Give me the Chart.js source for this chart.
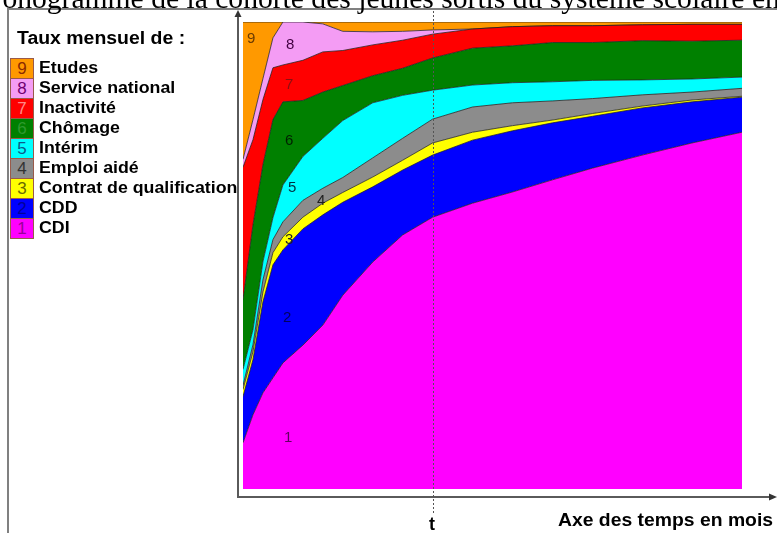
<!DOCTYPE html>
<html><head><meta charset="utf-8">
<script src="https://cdn.jsdelivr.net/npm/chart.js@4/dist/chart.umd.min.js"></script>
<style>
html,body{margin:0;padding:0;background:#fff;}
#wrap{position:relative;width:777px;height:533px;overflow:hidden;background:#fff;}
canvas{position:absolute;left:0;top:0;}
.t{position:absolute;white-space:nowrap;font-family:"Liberation Sans",Arial,sans-serif;transform-origin:0 0;}
#title{position:absolute;left:-42px;top:-16px;font-family:"Liberation Serif","Times New Roman",serif;font-size:29.6px;line-height:29px;white-space:nowrap;color:#000;}
.lg{position:absolute;left:10px;height:20px;line-height:20px;white-space:nowrap;font-family:"Liberation Sans",Arial,sans-serif;font-weight:bold;font-size:16px;color:#000;}
.lg .bx{position:absolute;left:0;top:0;width:22px;height:19px;border:1px solid #9a5a4a;box-sizing:content-box;text-align:center;font-weight:normal;font-size:17px;line-height:19px;}
.lg .tx{position:absolute;left:29px;top:0;transform:scaleX(1.11);transform-origin:0 0;}
.al{position:absolute;font-family:"Liberation Sans",Arial,sans-serif;font-size:15px;line-height:15px;}
</style></head><body>
<div id="wrap">
<canvas id="c" width="777" height="533"></canvas>
<div id="title">Chronogramme de la cohorte des jeunes sortis du système scolaire en 1998</div>
<div class="t" style="left:17px;top:28px;font-weight:bold;font-size:18px;line-height:20px;transform:scaleX(1.08);">Taux mensuel de :</div>
<div id="legend"></div>
<div class="t" style="left:429px;top:514px;font-weight:bold;font-size:18px;line-height:20px;">t</div>
<div class="t" style="left:558px;top:510px;font-weight:bold;font-size:18px;line-height:20px;transform:scaleX(1.075);">Axe des temps en mois</div>
<div class="al" style="left:247px;top:30px;color:#6a3a00;">9</div>
<div class="al" style="left:286px;top:36px;color:#400040;">8</div>
<div class="al" style="left:285px;top:76px;color:#8a1010;">7</div>
<div class="al" style="left:285px;top:132px;color:#002000;">6</div>
<div class="al" style="left:288px;top:179px;color:#003040;">5</div>
<div class="al" style="left:317px;top:192px;color:#202020;">4</div>
<div class="al" style="left:285px;top:231px;color:#202020;">3</div>
<div class="al" style="left:283px;top:309px;color:#000060;">2</div>
<div class="al" style="left:284px;top:429px;color:#600060;">1</div>
</div>
<script>
// time in months since leaving school
const months  = [0, 1, 2, 3, 4, 6, 8, 10, 13, 16, 19, 23, 27, 31, 35, 40, 45, 50];
const T_MONTH = 19;
// monthly rates (%) per state
const cdi      = [9.9,15.9,20.6,23.8,27.0,30.8,35.1,41.5,48.6,54.4,58.2,61.2,63.6,66.2,68.7,71.5,74.1,76.4];
const cdd      = [9.9,11.8,19.5,24.2,24.2,24.9,23.6,19.9,16.1,13.9,13.3,13.5,13.1,12.2,11.1,10.1,8.8,7.5];
const qualif   = [1.5,1.7,2.1,2.6,2.8,2.5,2.5,2.1,2.1,2.1,2.6,1.7,1.1,0.6,0.6,0.4,0.4,0.2];
const aide     = [0.9,1.5,2.6,2.8,3.2,3.6,3.2,3.2,4.1,4.7,5.1,5.4,4.9,4.1,3.2,2.4,1.7,1.7];
const interim  = [3.4,3.2,3.9,4.7,7.9,9.4,10.7,12.2,11.8,9.2,6.2,4.7,4.3,4.1,3.9,3.2,2.8,2.4];
const chomage  = [15.0,22.5,20.8,21.0,17.8,12.0,9.9,7.5,5.8,5.8,6.9,7.9,7.9,8.4,8.1,8.4,8.1,7.9];
const inactif  = [28.3,18.2,13.9,11.1,7.9,8.6,8.6,7.5,6.6,6.0,5.1,4.1,4.1,3.6,3.6,3.4,3.6,3.4];
const service  = [1.7,4.3,4.5,6.4,9.2,8.2,6.0,4.1,2.8,1.9,0.9,0,0,0,0,0,0,0];
const etudes   = [29.4,20.9,12.1,3.4,0,0,0.4,2.0,2.1,2.0,1.7,1.5,1.0,0.8,0.8,0.6,0.5,0.5];

const stateNames  = ["CDI","CDD","Contrat de qualification","Emploi aidé","Intérim","Chômage","Inactivité","Service national","Etudes"];
const stateCodes  = ["1","2","3","4","5","6","7","8","9"];
const stateValues = [cdi, cdd, qualif, aide, interim, chomage, inactif, service, etudes];
const fillColors  = ["#ff00ff","#0000ff","#ffff00","#8c8c8c","#00ffff","#008000","#ff0000","#f49cf4","#ff9900"];
const codeColors  = ["#990099","#000099","#6a6a00","#333333","#0a5a8a","#2e9a2e","#ff8a8a","#700070","#8a2a00"];

// legend (top = 9)
const lg = document.getElementById('legend');
for (let k = 8; k >= 0; k--) {
  const row = document.createElement('div');
  row.className = 'lg';
  row.style.top = (58 + (8 - k) * 20) + 'px';
  row.innerHTML = '<span class="bx" style="background:'+fillColors[k]+';color:'+codeColors[k]+'">'+stateCodes[k]+'</span><span class="tx">'+stateNames[k]+'</span>';
  lg.appendChild(row);
}

const datasets = stateValues.map((vals, k) => ({
  label: stateNames[k],
  data: months.map((m, i) => ({x: m, y: vals[i]})),
  backgroundColor: fillColors[k],
  borderColor: 'rgba(30,30,30,0.75)',
  borderWidth: 1,
  pointRadius: 0,
  tension: 0,
  fill: k === 0 ? 'origin' : '-1'
}));

const decor = {
  id: 'decor',
  afterDraw(chart) {
    const ctx = chart.ctx, a = chart.chartArea, xs = chart.scales.x;
    ctx.save();
    ctx.strokeStyle = '#808080'; ctx.lineWidth = 2;
    ctx.beginPath(); ctx.moveTo(8, 533); ctx.lineTo(8, 9); ctx.lineTo(777, 9); ctx.stroke();
    const ax = a.left - 5, ay = a.bottom + 8;
    ctx.strokeStyle = '#5a5a5a'; ctx.lineWidth = 2;
    ctx.beginPath(); ctx.moveTo(ax, 15); ctx.lineTo(ax, ay); ctx.lineTo(770, ay); ctx.stroke();
    ctx.fillStyle = '#333';
    ctx.beginPath(); ctx.moveTo(ax, 10); ctx.lineTo(ax - 3.5, 17); ctx.lineTo(ax + 3.5, 17); ctx.closePath(); ctx.fill();
    ctx.beginPath(); ctx.moveTo(777, ay); ctx.lineTo(769, ay - 3.5); ctx.lineTo(769, ay + 3.5); ctx.closePath(); ctx.fill();
    const tx = Math.round(xs.getPixelForValue(T_MONTH)) + 0.5;
    ctx.strokeStyle = '#555'; ctx.lineWidth = 1; ctx.setLineDash([2, 2]);
    ctx.beginPath(); ctx.moveTo(tx, 11); ctx.lineTo(tx, 513); ctx.stroke();
    ctx.restore();
  }
};

new Chart(document.getElementById('c'), {
  type: 'line',
  data: { datasets },
  options: {
    responsive: false,
    animation: false,
    devicePixelRatio: 1,
    layout: { padding: { left: 243, right: 35, top: 22, bottom: 44 } },
    plugins: { legend: { display: false }, tooltip: { enabled: false }, filler: { propagate: false } },
    scales: {
      x: { type: 'linear', min: 0, max: 50, display: false },
      y: { stacked: true, min: 0, max: 100, display: false }
    },
    elements: { line: { borderJoinStyle: 'round' } }
  },
  plugins: [decor]
});
</script>
</body></html>
